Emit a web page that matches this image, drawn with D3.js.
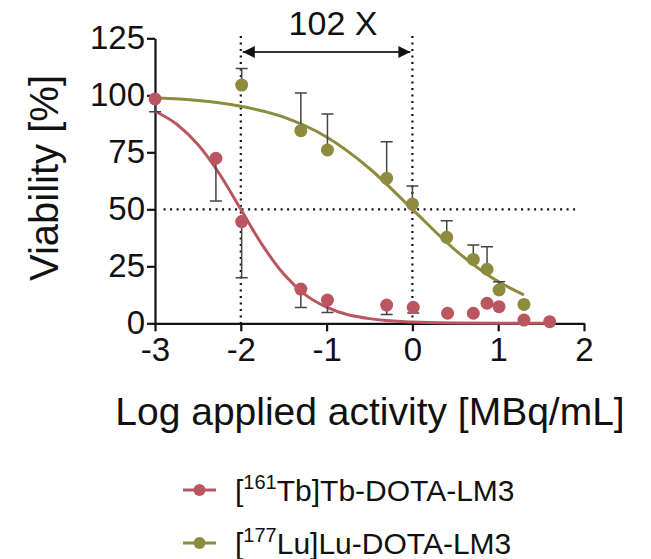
<!DOCTYPE html>
<html>
<head>
<meta charset="utf-8">
<script src="https://cdn.jsdelivr.net/npm/d3@7"></script>
<style>
    body { margin: 0; background: #fff; }
    text { font-family: "Liberation Sans", Arial, sans-serif; fill: #111; }
    .axis path, .axis line { stroke: #111; stroke-width: 2.2; }
    .axis text { font-size: 33px; fill: #111; }
    .ref { stroke: #111; stroke-width: 2.2; stroke-dasharray: 2,4.5; fill: none; }
    .err { stroke: #444; stroke-width: 1.5; fill: none; }
</style>
</head>
<body>
<div id="container-svg"></div>
<script>
// Data
const xTicks = [-3, -2, -1, 0, 1, 2]
const yTicks = [0, 25, 50, 75, 100, 125]

// [161Tb]Tb-DOTA-LM3 means and lower error bars
const tbX = [-3, -2.29, -1.99, -1.30, -0.99, -0.30, 0.01, 0.41, 0.71, 0.87, 1.01, 1.30, 1.60]
const tbY = [98.4, 72.4, 44.6, 15.0, 10.2, 8.0, 7.0, 4.4, 4.4, 8.8, 7.3, 1.4, 0.7]
const tbLow = [92.8, 53.6, 20.0, 6.9, 4.7, 3.9, 4.5, null, null, null, null, null, null]

// [177Lu]Lu-DOTA-LM3 means and upper error bars
const luX = [-1.99, -1.30, -0.99, -0.30, 0.0, 0.40, 0.71, 0.87, 1.01, 1.30]
const luY = [104.5, 84.5, 76.0, 63.6, 52.3, 37.7, 28.0, 23.7, 14.6, 8.3]
const luHigh = [111.8, 101.0, 91.8, 79.6, 60.2, 45.0, 34.3, 33.6, 18.2, null]

// Fitted curves
const tbCurveX = [-3, -2.75, -2.5, -2.25, -2, -1.75, -1.5, -1.25, -1, -0.5, 0, 0.5, 1, 1.6]
const tbCurveY = [93.0, 87.4, 78.4, 65.6, 50.0, 34.4, 21.6, 12.6, 7.05, 2.05, 0.57, 0.16, 0.04, 0.01]
const luCurveX = [-3, -2.5, -2, -1.5, -1, -0.5, 0, 0.5, 1, 1.3]
const luCurveY = [98.9, 97.7, 95.2, 90.4, 81.7, 67.9, 50.0, 32.1, 18.3, 12.5]

// Reference lines
const refX = [-2, 0]
const refY = 50
const foldLabel = "102 X"

const TB_COLOR = "#bb5660"
const LU_COLOR = "#8d8b3e"

// SVG initialization
const width = 651
const height = 559

const svg = d3.select("div#container-svg")
    .append("svg")
    .attr("width", width)
    .attr("height", height);

const x = d3.scaleLinear().domain([-3, 2]).range([155, 584])
const y = d3.scaleLinear().domain([0, 125]).range([323.3, 38.3])

// Dotted reference lines
svg.selectAll("line.vref")
    .data(refX)
    .join("line")
    .attr("class", "ref vref")
    .attr("x1", d => x(d)).attr("x2", d => x(d))
    .attr("y1", 36).attr("y2", y(0))

svg.append("line")
    .attr("class", "ref")
    .attr("x1", x(-2.9)).attr("x2", x(1.9))
    .attr("y1", y(refY)).attr("y2", y(refY))

// Double arrow between the two IC50s
const defs = svg.append("defs")
defs.append("marker")
    .attr("id", "arrow")
    .attr("viewBox", "0 0 10 10")
    .attr("refX", 10).attr("refY", 5)
    .attr("markerWidth", 6.5).attr("markerHeight", 6)
    .attr("markerUnits", "strokeWidth")
    .attr("orient", "auto-start-reverse")
    .append("path")
    .attr("d", "M0,0L10,5L0,10Z")
    .attr("fill", "#111")

svg.append("line")
    .attr("x1", x(refX[0]) + 2).attr("x2", x(refX[1]) - 2)
    .attr("y1", 52).attr("y2", 52)
    .attr("stroke", "#333").attr("stroke-width", 2)
    .attr("marker-start", "url(#arrow)")
    .attr("marker-end", "url(#arrow)")

svg.append("text")
    .attr("x", 333)
    .attr("y", 35)
    .attr("text-anchor", "middle")
    .style("font-size", "34px")
    .text(foldLabel)

// Axes
svg.append("g")
    .attr("class", "axis")
    .attr("transform", "translate(155,0)")
    .call(d3.axisLeft(y).tickValues(yTicks).tickSize(8).tickSizeOuter(0).tickPadding(2))

svg.append("g")
    .attr("class", "axis")
    .attr("transform", "translate(0," + y(0) + ")")
    .call(d3.axisBottom(x).tickValues(xTicks).tickSize(8).tickSizeOuter(0).tickPadding(6)
        .tickFormat(d => d < 0 ? "-" + Math.abs(d) : d))

// Curves
const line = d3.line().curve(d3.curveMonotoneX)

svg.append("path")
    .attr("d", line(tbCurveX.map((d, i) => [x(d), y(tbCurveY[i])])))
    .attr("fill", "none").attr("stroke", TB_COLOR).attr("stroke-width", 3)

svg.append("path")
    .attr("d", line(luCurveX.map((d, i) => [x(d), y(luCurveY[i])])))
    .attr("fill", "none").attr("stroke", LU_COLOR).attr("stroke-width", 3)

// Error bars
const drawErrors = function(xs, ys, ends) {
    const rows = xs.map((d, i) => ({x: d, y: ys[i], e: ends[i]})).filter(d => d.e !== null)
    svg.selectAll(null)
        .data(rows)
        .join("path")
        .attr("class", "err")
        .attr("d", d => "M" + x(d.x) + "," + y(d.y) + "V" + y(d.e) +
            "M" + (x(d.x) - 6) + "," + y(d.e) + "H" + (x(d.x) + 6))
}
drawErrors(tbX, tbY, tbLow)
drawErrors(luX, luY, luHigh)

// Points
svg.selectAll("circle.tb")
    .data(tbX)
    .join("circle")
    .attr("class", "tb")
    .attr("cx", d => x(d))
    .attr("cy", (d, i) => y(tbY[i]))
    .attr("r", 6.5)
    .attr("fill", TB_COLOR)

svg.selectAll("circle.lu")
    .data(luX)
    .join("circle")
    .attr("class", "lu")
    .attr("cx", d => x(d))
    .attr("cy", (d, i) => y(luY[i]))
    .attr("r", 6.5)
    .attr("fill", LU_COLOR)

// Axis titles
svg.append("text")
    .attr("x", 370).attr("y", 425)
    .attr("text-anchor", "middle")
    .style("font-size", "39px")
    .text("Log applied activity [MBq/mL]")

svg.append("text")
    .attr("transform", "translate(58,178) rotate(-90)")
    .attr("text-anchor", "middle")
    .style("font-size", "40px")
    .text("Viability [%]")

// Legend
const legend = [
    {sup: "161", el: "Tb", color: TB_COLOR, yPos: 490},
    {sup: "177", el: "Lu", color: LU_COLOR, yPos: 543}
]

const legendRows = svg.selectAll("g.legend")
    .data(legend)
    .join("g")
    .attr("class", "legend")
    .attr("transform", d => "translate(0," + d.yPos + ")")

legendRows.append("line")
    .attr("x1", 183).attr("x2", 216)
    .attr("stroke", d => d.color).attr("stroke-width", 3)
legendRows.append("circle")
    .attr("cx", 199.5).attr("r", 6)
    .attr("fill", d => d.color)

const legendText = legendRows.append("text")
    .attr("x", 235).attr("y", 11)
    .style("font-size", "30px")
legendText.append("tspan").text("[")
legendText.append("tspan").attr("dy", -12).style("font-size", "20px").text(d => d.sup)
legendText.append("tspan").attr("dy", 12).text(d => d.el + "]" + d.el + "-DOTA-LM3")
</script>
</body>
</html>
